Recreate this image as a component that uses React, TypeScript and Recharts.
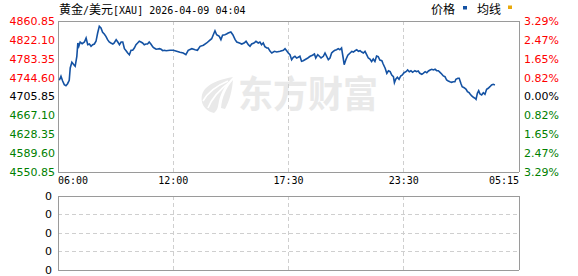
import React from 'react';
import { LineChart, Line, XAxis, YAxis, CartesianGrid, ReferenceLine } from 'recharts';

// ---------- data ----------
const titleName = '黄金';
const titleQuote = '美元';
const titleCode = '[XAU] 2026-04-09 04:04';
const legendPrice = '价格';
const legendAvg = '均线';
const watermarkText = '东方财富';

const prevClose = 4705.85;
const sessionMinutes = 1395; // 06:00 -> 05:15 next day
const timeTickLabels = ['06:00', '12:00', '17:30', '23:30', '05:15'];
const priceTicks = [4550.85, 4589.6, 4628.35, 4667.1, 4705.85, 4744.6, 4783.35, 4822.1, 4860.85];
const volumeTickLabels = ['0', '0', '0', '0', '0'];

// minutes after 06:00
const minutes = [
  4, 9, 14, 19, 24, 29, 34, 37, 42, 48,
  52, 57, 60, 63, 67, 73, 80, 85, 90, 95,
  100, 105, 110, 115, 120, 125, 130, 135, 140, 145,
  150, 155, 160, 166, 170, 176, 181, 186, 191, 196,
  201, 206, 211, 216, 221, 226, 231, 236, 241, 246,
  251, 256, 261, 266, 271, 276, 281, 287, 291, 297,
  302, 307, 312, 317, 322, 327, 339, 349, 359, 369,
  379, 387, 394, 405, 415, 422, 430, 440, 450, 458,
  465, 470, 475, 480, 488, 493, 498, 505, 510, 515,
  523, 529, 536, 541, 549, 556, 563, 569, 576, 581,
  586, 593, 599, 606, 611, 616, 621, 626, 632, 636,
  642, 647, 655, 662, 672, 682, 687, 692, 697, 702,
  707, 712, 717, 722, 727, 732, 737, 742, 747, 756,
  763, 770, 776, 780, 786, 791, 796, 803, 808, 813,
  818, 823, 828, 833, 838, 843, 848, 853, 858, 863,
  866, 871, 877, 884, 889, 894, 899, 904, 909, 914,
  919, 924, 929, 934, 939, 944, 949, 954, 959, 964,
  969, 974, 980, 984, 990, 995, 1000, 1005, 1010, 1015,
  1018, 1022, 1027, 1032, 1037, 1042, 1047, 1053, 1058, 1063,
  1068, 1073, 1080, 1085, 1090, 1095, 1101, 1105, 1111, 1116,
  1121, 1126, 1131, 1136, 1141, 1146, 1151, 1156, 1161, 1166,
  1171, 1176, 1181, 1186, 1191, 1196, 1201, 1204, 1210, 1214,
  1219, 1223, 1229, 1235, 1239, 1244, 1247, 1252, 1257, 1262,
  1265, 1269, 1273, 1277, 1282, 1287, 1292, 1297, 1302, 1307,
  1312, 1317, 1322,
];

const prices = [
  4739.1, 4747.3, 4737.7, 4730.1, 4728.0, 4732.1, 4739.1, 4764.4, 4776.1, 4771.1,
  4767.9, 4788.4, 4815.7, 4808.9, 4817.7, 4814.3, 4817.7, 4825.9, 4812.2, 4813.6,
  4808.9, 4812.2, 4813.6, 4819.2, 4836.2, 4850.0, 4846.5, 4837.7, 4834.2, 4829.4,
  4822.5, 4817.7, 4815.7, 4813.6, 4815.7, 4822.5, 4817.7, 4812.2, 4817.7, 4817.7,
  4804.0, 4799.9, 4795.2, 4791.7, 4800.7, 4800.7, 4805.4, 4812.2, 4815.7, 4819.2,
  4817.7, 4815.7, 4812.2, 4813.6, 4813.6, 4817.7, 4813.6, 4807.5, 4805.4, 4802.8,
  4803.4, 4804.0, 4802.8, 4799.9, 4800.7, 4799.9, 4800.7, 4800.7, 4798.6, 4796.6,
  4795.2, 4791.7, 4800.7, 4804.0, 4801.9, 4800.7, 4808.9, 4811.0, 4815.7, 4820.4,
  4824.5, 4832.7, 4840.9, 4832.7, 4829.4, 4822.5, 4831.5, 4832.7, 4834.2, 4836.2,
  4838.3, 4832.7, 4822.5, 4817.7, 4815.7, 4813.6, 4815.7, 4819.2, 4812.2, 4808.9,
  4813.6, 4815.7, 4819.2, 4815.7, 4817.7, 4812.2, 4815.7, 4808.1, 4805.4, 4805.4,
  4798.6, 4795.2, 4798.6, 4797.2, 4798.6, 4800.7, 4804.0, 4799.9, 4795.2, 4791.7,
  4781.4, 4786.4, 4788.4, 4784.9, 4786.4, 4788.4, 4778.1, 4779.4, 4781.4, 4784.9,
  4788.4, 4790.5, 4793.1, 4784.9, 4791.7, 4788.4, 4784.9, 4788.4, 4795.2, 4788.4,
  4781.4, 4784.9, 4795.2, 4798.6, 4800.7, 4801.9, 4804.0, 4801.9, 4805.4, 4784.9,
  4771.1, 4781.4, 4790.5, 4795.2, 4798.6, 4797.2, 4799.9, 4801.9, 4798.6, 4799.9,
  4797.2, 4795.2, 4798.6, 4791.7, 4784.9, 4782.8, 4777.7, 4782.8, 4777.7, 4789.0,
  4787.6, 4780.8, 4779.4, 4772.6, 4763.8, 4753.5, 4758.8, 4756.8, 4750.0, 4746.5,
  4734.2, 4741.2, 4745.3, 4741.2, 4748.0, 4750.0, 4754.7, 4756.8, 4760.3, 4756.8,
  4758.8, 4755.5, 4758.8, 4756.8, 4758.2, 4753.5, 4751.4, 4753.5, 4756.8, 4754.7,
  4758.2, 4760.3, 4761.7, 4760.3, 4761.7, 4758.8, 4758.8, 4755.5, 4752.1, 4748.0,
  4746.5, 4739.7, 4737.7, 4736.2, 4735.0, 4736.2, 4736.2, 4741.2, 4743.2, 4743.2,
  4732.9, 4726.0, 4723.9, 4720.6, 4715.7, 4713.7, 4711.0, 4706.9, 4704.2, 4702.2,
  4700.1, 4712.4, 4717.8, 4711.0, 4709.0, 4713.7, 4710.4, 4720.6, 4722.7, 4726.0,
  4729.5, 4730.9, 4729.5,
];

const data = minutes.map((t, i) => ({ t, price: prices[i] }));
const timeTicks = timeTickLabels.map((_, i) => (i * sessionMinutes) / (timeTickLabels.length - 1));
const volTicks = volumeTickLabels.map((_, i) => i);

// ---------- styles ----------
const W = 578;
const H = 276;
const LINE_COLOR = '#1452a3';
const GRID_COLOR = '#cfcfcf';
const BORDER_COLOR = '#9a9a9a';
const UP = '#ff0000';
const DOWN = '#008000';
const AXIS_FONT = 'DejaVu Sans, Verdana, sans-serif';
const MONO = 'DejaVu Sans Mono, monospace';
const CJK = 'Noto Sans CJK SC, sans-serif';

const colorFor = (v: number) =>
  Math.abs(v - prevClose) < 0.001 ? '#000000' : v > prevClose ? UP : DOWN;

const LeftPriceTick = (props: any) => {
  const { x, y, payload } = props;
  const v = payload.value as number;
  return (
    <text x={x} y={y} dy="0.36em" textAnchor="end" fill={colorFor(v)} fontFamily={AXIS_FONT} fontSize={11}>
      {v.toFixed(2)}
    </text>
  );
};

const RightPctTick = (props: any) => {
  const { x, y, payload } = props;
  const v = payload.value as number;
  const pct = Math.abs(((v - prevClose) / prevClose) * 100).toFixed(2) + '%';
  return (
    <text x={x} y={y} dy="0.36em" textAnchor="start" fill={colorFor(v)} fontFamily={AXIS_FONT} fontSize={11}>
      {pct}
    </text>
  );
};

const TimeTick = (props: any) => {
  const { x, y, index } = props;
  const last = timeTickLabels.length - 1;
  const anchor = index === 0 ? 'start' : index === last ? 'end' : 'middle';
  return (
    <text x={x} y={y} dy={10} textAnchor={anchor} fill="#000" fontFamily={MONO} fontSize={10}>
      {timeTickLabels[index]}
    </text>
  );
};

const VolTick = (props: any) => {
  const { x, y, index } = props;
  return (
    <text x={x} y={y} dy="0.36em" textAnchor="end" fill="#000" fontFamily={AXIS_FONT} fontSize={11}>
      {volumeTickLabels[index]}
    </text>
  );
};

const borderProps = { stroke: BORDER_COLOR, strokeWidth: 1, shapeRendering: 'crispEdges' } as any;

export default function App() {
  return (
    <div style={{ position: 'absolute', left: 0, top: 0, width: W, height: H, background: '#fff', overflow: 'hidden' }}>
      {/* watermark */}
      <svg width={W} height={H} style={{ position: 'absolute', left: 0, top: 0 }}>
        <g fill="#e9e9e9">
          <path d="M214 113 C201 110 198 96 206 88 C212 82 222 79 233 77 C226 84 221 92 219 101 C218 106 218 110 214 113 Z" />
          <path d="M221 108 C222 97 226 88 233 80 C232 90 230 100 225 109 Z" />
        </g>
        <g stroke="#ffffff" strokeWidth={1.6} fill="none">
          <path d="M203 101 C208 92 216 86 228 81" />
          <path d="M208 108 C212 98 219 90 230 82" />
        </g>
        <text x={238} y={108} fill="#e9e9e9" fontFamily={CJK} fontWeight={700} fontSize={37} textLength={140} lengthAdjust="spacingAndGlyphs">
          {watermarkText}
        </text>
      </svg>

      {/* price panel */}
      <div style={{ position: 'absolute', left: 0, top: 0 }}>
        <LineChart width={W} height={190} data={data} margin={{ top: 21, right: 0, bottom: 0, left: 0 }}>
          <CartesianGrid stroke={GRID_COLOR} strokeDasharray="4 3" shapeRendering="crispEdges" />
          <XAxis
            dataKey="t"
            type="number"
            domain={[0, sessionMinutes]}
            ticks={timeTicks}
            interval={0}
            height={18}
            axisLine={false}
            tickLine={false}
            tickSize={0}
            tickMargin={2}
            tick={<TimeTick />}
            allowDataOverflow
          />
          <YAxis
            yAxisId="left"
            orientation="left"
            width={58}
            domain={[priceTicks[0], priceTicks[priceTicks.length - 1]]}
            ticks={priceTicks}
            interval={0}
            axisLine={false}
            tickLine={false}
            tickSize={0}
            tickMargin={3}
            tick={<LeftPriceTick />}
            allowDataOverflow
          />
          <YAxis
            yAxisId="right"
            orientation="right"
            width={59}
            domain={[priceTicks[0], priceTicks[priceTicks.length - 1]]}
            ticks={priceTicks}
            interval={0}
            axisLine={false}
            tickLine={false}
            tickSize={0}
            tickMargin={5}
            tick={<RightPctTick />}
            allowDataOverflow
          />
          <ReferenceLine yAxisId="left" y={priceTicks[priceTicks.length - 1]} {...borderProps} />
          <ReferenceLine yAxisId="left" y={priceTicks[0]} {...borderProps} />
          <ReferenceLine yAxisId="left" x={0} {...borderProps} />
          <ReferenceLine yAxisId="left" x={sessionMinutes} {...borderProps} />
          <Line
            yAxisId="left"
            type="linear"
            dataKey="price"
            stroke={LINE_COLOR}
            strokeWidth={1.6}
            dot={false}
            isAnimationActive={false}
          />
        </LineChart>
      </div>

      {/* volume panel */}
      <div style={{ position: 'absolute', left: 0, top: 190 }}>
        <LineChart width={W} height={86} data={data} margin={{ top: 6, right: 59, bottom: 6, left: 0 }}>
          <CartesianGrid stroke={GRID_COLOR} strokeDasharray="4 3" shapeRendering="crispEdges" />
          <XAxis dataKey="t" type="number" domain={[0, sessionMinutes]} ticks={timeTicks} interval={0} hide allowDataOverflow />
          <YAxis
            width={58}
            domain={[volTicks[0], volTicks[volTicks.length - 1]]}
            ticks={volTicks}
            interval={0}
            axisLine={false}
            tickLine={false}
            tickSize={0}
            tickMargin={6}
            tick={<VolTick />}
            allowDataOverflow
          />
          <ReferenceLine y={volTicks[volTicks.length - 1]} {...borderProps} />
          <ReferenceLine y={volTicks[0]} {...borderProps} />
          <ReferenceLine x={0} {...borderProps} />
          <ReferenceLine x={sessionMinutes} {...borderProps} />
        </LineChart>
      </div>

      {/* title & legend */}
      <svg width={W} height={20} style={{ position: 'absolute', left: 0, top: 0 }}>
        <text x={59} y={14} fill="#000" fontSize={12}>
          <tspan fontFamily={CJK}>{titleName}</tspan>
          <tspan fontFamily={MONO} fontSize={10}>/</tspan>
          <tspan fontFamily={CJK}>{titleQuote}</tspan>
          <tspan fontFamily={MONO} fontSize={10}>{titleCode}</tspan>
        </text>
        <text x={431} y={14} fill="#000" fontFamily={CJK} fontSize={12}>{legendPrice}</text>
        <rect x={463} y={6} width={4} height={3.5} fill={LINE_COLOR} />
        <text x={477} y={14} fill="#000" fontFamily={CJK} fontSize={12}>{legendAvg}</text>
        <rect x={508} y={5.5} width={4} height={3.5} fill="#e8a90c" />
      </svg>
    </div>
  );
}
